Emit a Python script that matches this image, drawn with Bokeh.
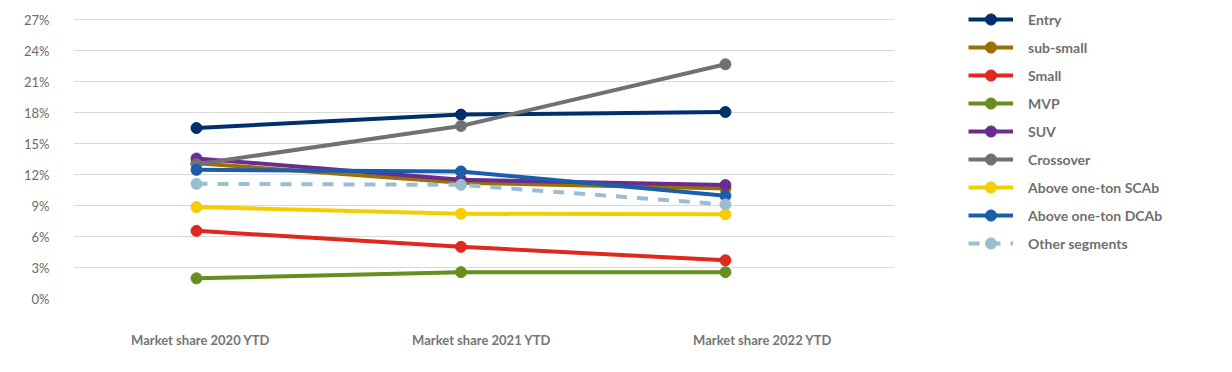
from bokeh.plotting import figure
from bokeh.models import (Range1d, LinearAxis, FixedTicker, Legend, LegendItem,
                          PrintfTickFormatter, BoxAnnotation)
from bokeh.embed import file_html
from bokeh.resources import INLINE

periods = ["Market share 2020 YTD", "Market share 2021 YTD", "Market share 2022 YTD"]
y_ticks = [0, 3, 6, 9, 12, 15, 18, 21, 24, 27]

entry = [16.5, 17.8, 18.05]
sub_small = [13.1, 11.2, 10.65]
small = [6.55, 5.0, 3.7]
mvp = [1.95, 2.55, 2.55]
suv = [13.55, 11.5, 10.98]
crossover = [13.0, 16.7, 22.67]
above_scab = [8.85, 8.2, 8.15]
above_dcab = [12.45, 12.3, 9.95]
other = [11.1, 11.0, 9.1]

series = [
    ("Entry", entry, "#002F6C", "solid"),
    ("sub-small", sub_small, "#9C7000", "solid"),
    ("Small", small, "#E0281E", "solid"),
    ("MVP", mvp, "#678F1D", "solid"),
    ("SUV", suv, "#6A2C91", "solid"),
    ("Crossover", crossover, "#717171", "solid"),
    ("Above one-ton SCAb", above_scab, "#F5CE00", "solid"),
    ("Above one-ton DCAb", above_dcab, "#1A5DAB", "solid"),
    ("Other segments", other, "#9BBDD2", "11 10"),
]

xs = list(range(len(periods)))

p = figure(width=1224, height=358, output_backend="svg", toolbar_location=None,
           x_range=Range1d(-0.465, 3.887), y_range=Range1d(0, 28.36),
           x_axis_location=None,
           min_border_left=73, min_border_right=0, min_border_top=5, min_border_bottom=60)

p.extra_x_ranges = {"lab": Range1d(-0.452, 3.644)}
xax = LinearAxis(x_range_name="lab", ticker=FixedTicker(ticks=xs),
                 major_label_overrides={i: periods[i] for i in xs})
xax.axis_line_color = None
xax.major_tick_line_color = None
xax.minor_tick_line_color = None
xax.major_label_standoff = 27
xax.major_label_text_font = "Lato"
xax.major_label_text_font_style = "bold"
xax.major_label_text_font_size = "13px"
xax.major_label_text_color = "#757575"
p.add_layout(xax, "below")

p.yaxis.ticker = FixedTicker(ticks=y_ticks)
p.yaxis.formatter = PrintfTickFormatter(format="%d%%")
p.yaxis.axis_line_color = None
p.yaxis.major_tick_line_color = None
p.yaxis.minor_tick_line_color = None
p.yaxis.major_label_standoff = 18
p.yaxis.major_label_text_font = "Lato"
p.yaxis.major_label_text_font_size = "13px"
p.yaxis.major_label_text_color = "#6b6b6b"

p.xgrid.visible = False
p.ygrid.grid_line_color = "#d9d9d9"
p.ygrid.grid_line_width = 1
p.outline_line_color = None

# hide gridlines in the legend area (right of the plot region)
mask = BoxAnnotation(left=894, left_units="canvas", fill_color="white", fill_alpha=1.0,
                     line_color=None, level="underlay")
p.add_layout(mask)

items = []
for name, vals, color, dash in series:
    r1 = p.line(xs, vals, line_color=color, line_width=4, line_dash=dash)
    r2 = p.scatter(xs, vals, size=11, fill_color=color, line_color=color, marker="circle")
    items.append(LegendItem(label=name, renderers=[r1, r2]))

legend = Legend(items=items, location=(895, 41))
legend.border_line_color = None
legend.background_fill_alpha = 0
legend.padding = 0
legend.margin = 0
legend.spacing = 0
legend.glyph_height = 28
legend.label_height = 28
legend.glyph_width = 45
legend.label_standoff = 15
legend.label_text_font = "Lato"
legend.label_text_font_style = "bold"
legend.label_text_font_size = "14px"
legend.label_text_color = "#6f6f6f"
p.add_layout(legend)

open("out.html", "w").write(file_html(p, INLINE))
